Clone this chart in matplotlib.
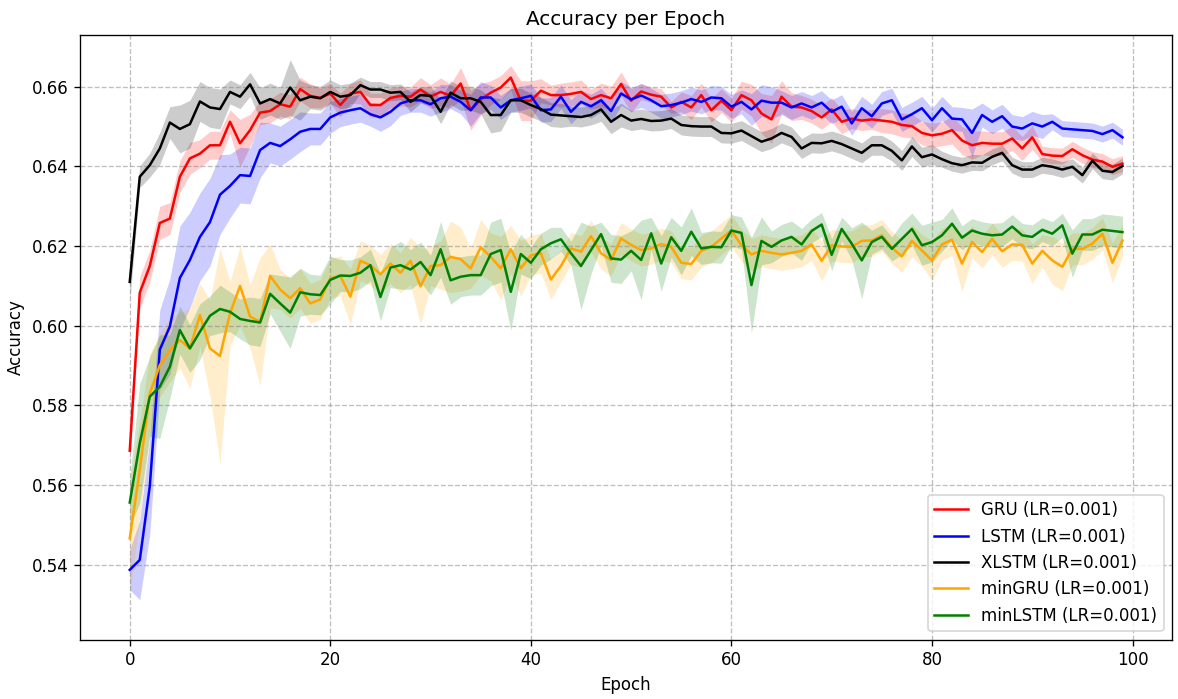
import numpy as np
import matplotlib.pyplot as plt

# epochs 0..99
epochs = np.arange(100)

# mean accuracy per epoch
gru_mean = [
    0.5686, 0.6083, 0.6150, 0.6258, 0.6269, 0.6374, 0.6420, 0.6432, 0.6453, 0.6453,
    0.6512, 0.6458, 0.6491, 0.6535, 0.6539, 0.6556, 0.6550, 0.6594, 0.6577, 0.6572,
    0.6583, 0.6554, 0.6583, 0.6587, 0.6554, 0.6554, 0.6572, 0.6577, 0.6575, 0.6593,
    0.6575, 0.6587, 0.6577, 0.6608, 0.6541, 0.6568, 0.6585, 0.6598, 0.6623, 0.6565,
    0.6565, 0.6590, 0.6579, 0.6579, 0.6582, 0.6587, 0.6569, 0.6579, 0.6571, 0.6607,
    0.6565, 0.6588, 0.6580, 0.6575, 0.6548, 0.6562, 0.6548, 0.6579, 0.6541, 0.6565,
    0.6541, 0.6579, 0.6566, 0.6533, 0.6518, 0.6575, 0.6550, 0.6548, 0.6539, 0.6523,
    0.6543, 0.6512, 0.6520, 0.6515, 0.6518, 0.6515, 0.6512, 0.6504, 0.6501, 0.6484,
    0.6478, 0.6482, 0.6491, 0.6465, 0.6453, 0.6459, 0.6457, 0.6457, 0.6470, 0.6445,
    0.6473, 0.6431, 0.6427, 0.6426, 0.6443, 0.6428, 0.6417, 0.6412, 0.6399, 0.6407,
]
gru_std = [
    0.003, 0.004, 0.004, 0.0042, 0.004, 0.004, 0.004, 0.0035, 0.0035, 0.0035,
    0.003, 0.006, 0.004, 0.003, 0.003, 0.003, 0.003, 0.003, 0.003, 0.0025,
    0.0025, 0.003, 0.0025, 0.003, 0.003, 0.003, 0.0025, 0.0025, 0.0025, 0.003,
    0.003, 0.0035, 0.003, 0.004, 0.005, 0.004, 0.003, 0.003, 0.003, 0.005,
    0.005, 0.003, 0.0025, 0.003, 0.003, 0.003, 0.0025, 0.003, 0.003, 0.003,
    0.003, 0.002, 0.002, 0.002, 0.0015, 0.0025, 0.003, 0.003, 0.003, 0.003,
    0.003, 0.0035, 0.004, 0.005, 0.006, 0.004, 0.0035, 0.003, 0.003, 0.003,
    0.003, 0.003, 0.0025, 0.0025, 0.0025, 0.003, 0.003, 0.003, 0.003, 0.003,
    0.003, 0.003, 0.0035, 0.0035, 0.0035, 0.003, 0.003, 0.003, 0.003, 0.003,
    0.003, 0.002, 0.002, 0.002, 0.002, 0.002, 0.002, 0.002, 0.002, 0.002,
]

lstm_mean = [
    0.5387, 0.5412, 0.5597, 0.5940, 0.5998, 0.6120, 0.6165, 0.6223, 0.6260, 0.6329,
    0.6351, 0.6378, 0.6376, 0.6441, 0.6459, 0.6451, 0.6468, 0.6487, 0.6494, 0.6494,
    0.6523, 0.6535, 0.6541, 0.6546, 0.6531, 0.6523, 0.6537, 0.6558, 0.6566, 0.6566,
    0.6556, 0.6571, 0.6575, 0.6562, 0.6541, 0.6573, 0.6573, 0.6548, 0.6566, 0.6571,
    0.6577, 0.6541, 0.6543, 0.6575, 0.6537, 0.6562, 0.6551, 0.6566, 0.6539, 0.6583,
    0.6568, 0.6578, 0.6566, 0.6551, 0.6554, 0.6560, 0.6569, 0.6562, 0.6573, 0.6571,
    0.6550, 0.6562, 0.6543, 0.6565, 0.6560, 0.6560, 0.6548, 0.6558, 0.6548, 0.6560,
    0.6537, 0.6550, 0.6508, 0.6546, 0.6526, 0.6558, 0.6566, 0.6518, 0.6531, 0.6546,
    0.6516, 0.6546, 0.6520, 0.6518, 0.6484, 0.6529, 0.6512, 0.6526, 0.6500, 0.6495,
    0.6508, 0.6500, 0.6512, 0.6495, 0.6493, 0.6491, 0.6489, 0.6481, 0.6491, 0.6473,
]
lstm_std = [
    0.005, 0.010, 0.012, 0.010, 0.012, 0.013, 0.012, 0.011, 0.011, 0.010,
    0.008, 0.007, 0.007, 0.007, 0.005, 0.005, 0.005, 0.005, 0.004, 0.004,
    0.004, 0.0035, 0.0035, 0.0035, 0.003, 0.0035, 0.0035, 0.003, 0.003, 0.003,
    0.003, 0.0035, 0.003, 0.003, 0.004, 0.004, 0.003, 0.003, 0.003, 0.003,
    0.003, 0.003, 0.003, 0.003, 0.003, 0.003, 0.003, 0.003, 0.003, 0.003,
    0.003, 0.003, 0.003, 0.003, 0.003, 0.003, 0.003, 0.003, 0.003, 0.003,
    0.003, 0.003, 0.004, 0.004, 0.004, 0.003, 0.003, 0.003, 0.003, 0.003,
    0.003, 0.003, 0.003, 0.003, 0.003, 0.003, 0.003, 0.003, 0.003, 0.003,
    0.003, 0.003, 0.003, 0.003, 0.006, 0.003, 0.003, 0.003, 0.003, 0.003,
    0.003, 0.003, 0.002, 0.002, 0.002, 0.002, 0.002, 0.002, 0.002, 0.002,
]

xlstm_mean = [
    0.6110, 0.6374, 0.6403, 0.6445, 0.6510, 0.6494, 0.6506, 0.6563, 0.6548, 0.6544,
    0.6587, 0.6575, 0.6606, 0.6558, 0.6569, 0.6558, 0.6598, 0.6566, 0.6575, 0.6571,
    0.6587, 0.6575, 0.6579, 0.6604, 0.6593, 0.6593, 0.6585, 0.6587, 0.6562, 0.6579,
    0.6577, 0.6537, 0.6585, 0.6571, 0.6571, 0.6562, 0.6529, 0.6529, 0.6566, 0.6566,
    0.6554, 0.6544, 0.6530, 0.6528, 0.6526, 0.6524, 0.6529, 0.6543, 0.6512, 0.6529,
    0.6515, 0.6519, 0.6514, 0.6515, 0.6520, 0.6504, 0.6501, 0.6500, 0.6500, 0.6484,
    0.6483, 0.6490, 0.6476, 0.6462, 0.6470, 0.6484, 0.6474, 0.6445, 0.6459, 0.6458,
    0.6464, 0.6456, 0.6445, 0.6434, 0.6453, 0.6453, 0.6439, 0.6415, 0.6450, 0.6423,
    0.6430, 0.6418, 0.6408, 0.6403, 0.6410, 0.6409, 0.6424, 0.6434, 0.6403, 0.6392,
    0.6392, 0.6403, 0.6399, 0.6392, 0.6399, 0.6378, 0.6414, 0.6389, 0.6386, 0.6401,
]
xlstm_std = [
    0.005, 0.0027, 0.003, 0.004, 0.004, 0.006, 0.006, 0.005, 0.005, 0.005,
    0.003, 0.003, 0.003, 0.004, 0.004, 0.004, 0.007, 0.005, 0.003, 0.003,
    0.003, 0.003, 0.003, 0.002, 0.002, 0.002, 0.002, 0.002, 0.0025, 0.002,
    0.0025, 0.003, 0.003, 0.003, 0.003, 0.003, 0.0045, 0.004, 0.003, 0.003,
    0.003, 0.003, 0.003, 0.003, 0.0025, 0.0025, 0.0025, 0.003, 0.003, 0.003,
    0.0025, 0.0025, 0.0025, 0.0025, 0.0025, 0.0025, 0.0025, 0.0025, 0.0025, 0.0025,
    0.0025, 0.0025, 0.0025, 0.0025, 0.0025, 0.0025, 0.0025, 0.0025, 0.0025, 0.0025,
    0.0025, 0.0025, 0.0025, 0.0025, 0.0025, 0.0025, 0.0025, 0.0025, 0.0025, 0.0025,
    0.0025, 0.002, 0.002, 0.002, 0.002, 0.002, 0.002, 0.002, 0.002, 0.002,
    0.002, 0.002, 0.002, 0.002, 0.002, 0.002, 0.002, 0.002, 0.002, 0.002,
]

mingru_mean = [
    0.5466, 0.5638, 0.5830, 0.5901, 0.5939, 0.5964, 0.5943, 0.6027, 0.5943, 0.5924,
    0.6031, 0.6100, 0.6023, 0.6010, 0.6125, 0.6091, 0.6069, 0.6094, 0.6056, 0.6066,
    0.6119, 0.6125, 0.6073, 0.6163, 0.6152, 0.6129, 0.6156, 0.6133, 0.6163, 0.6099,
    0.6150, 0.6152, 0.6173, 0.6167, 0.6144, 0.6197, 0.6173, 0.6144, 0.6192, 0.6144,
    0.6177, 0.6182, 0.6116, 0.6150, 0.6194, 0.6186, 0.6225, 0.6182, 0.6165, 0.6219,
    0.6203, 0.6190, 0.6194, 0.6205, 0.6198, 0.6158, 0.6155, 0.6188, 0.6198, 0.6219,
    0.6239, 0.6202, 0.6179, 0.6188, 0.6183, 0.6179, 0.6183, 0.6188, 0.6204, 0.6163,
    0.6202, 0.6199, 0.6198, 0.6213, 0.6214, 0.6227, 0.6196, 0.6174, 0.6213, 0.6189,
    0.6164, 0.6204, 0.6216, 0.6156, 0.6210, 0.6185, 0.6218, 0.6187, 0.6204, 0.6203,
    0.6156, 0.6188, 0.6164, 0.6148, 0.6193, 0.6193, 0.6206, 0.6231, 0.6158, 0.6214,
]
mingru_std = [
    0.014, 0.012, 0.010, 0.008, 0.008, 0.007, 0.010, 0.008, 0.012, 0.027,
    0.008, 0.010, 0.008, 0.016, 0.008, 0.005, 0.005, 0.005, 0.005, 0.005,
    0.005, 0.005, 0.007, 0.005, 0.005, 0.005, 0.005, 0.005, 0.006, 0.0095,
    0.005, 0.006, 0.009, 0.008, 0.005, 0.007, 0.006, 0.008, 0.006, 0.007,
    0.005, 0.005, 0.005, 0.004, 0.004, 0.004, 0.004, 0.004, 0.004, 0.004,
    0.004, 0.004, 0.004, 0.004, 0.004, 0.004, 0.004, 0.004, 0.004, 0.004,
    0.004, 0.004, 0.004, 0.004, 0.004, 0.004, 0.004, 0.004, 0.004, 0.005,
    0.004, 0.004, 0.004, 0.004, 0.004, 0.004, 0.004, 0.004, 0.004, 0.004,
    0.005, 0.004, 0.004, 0.007, 0.004, 0.004, 0.004, 0.004, 0.004, 0.004,
    0.005, 0.004, 0.006, 0.006, 0.004, 0.004, 0.004, 0.004, 0.005, 0.004,
]

minlstm_mean = [
    0.5556, 0.5705, 0.5822, 0.5847, 0.5897, 0.5989, 0.5943, 0.5985, 0.6025, 0.6042,
    0.6035, 0.6017, 0.6012, 0.6008, 0.6080, 0.6056, 0.6033, 0.6084, 0.6079, 0.6077,
    0.6115, 0.6126, 0.6125, 0.6133, 0.6152, 0.6072, 0.6146, 0.6152, 0.6141, 0.6160,
    0.6127, 0.6192, 0.6114, 0.6123, 0.6127, 0.6127, 0.6180, 0.6190, 0.6085, 0.6180,
    0.6158, 0.6192, 0.6207, 0.6217, 0.6182, 0.6150, 0.6190, 0.6230, 0.6169, 0.6166,
    0.6188, 0.6165, 0.6232, 0.6156, 0.6222, 0.6188, 0.6236, 0.6194, 0.6198, 0.6197,
    0.6239, 0.6233, 0.6102, 0.6213, 0.6198, 0.6214, 0.6223, 0.6204, 0.6238, 0.6254,
    0.6178, 0.6243, 0.6206, 0.6164, 0.6210, 0.6223, 0.6193, 0.6218, 0.6243, 0.6202,
    0.6210, 0.6227, 0.6256, 0.6221, 0.6239, 0.6231, 0.6227, 0.6229, 0.6249, 0.6227,
    0.6223, 0.6241, 0.6231, 0.6252, 0.6181, 0.6229, 0.6229, 0.6241, 0.6238, 0.6235,
]
minlstm_std = [
    0.006, 0.015, 0.010, 0.013, 0.008, 0.006, 0.006, 0.007, 0.005, 0.006,
    0.005, 0.005, 0.006, 0.006, 0.005, 0.007, 0.009, 0.006, 0.005, 0.005,
    0.006, 0.004, 0.004, 0.004, 0.004, 0.006, 0.005, 0.006, 0.005, 0.005,
    0.005, 0.007, 0.006, 0.005, 0.005, 0.005, 0.008, 0.008, 0.0097, 0.005,
    0.004, 0.004, 0.004, 0.003, 0.003, 0.011, 0.006, 0.003, 0.006, 0.006,
    0.005, 0.010, 0.004, 0.007, 0.005, 0.006, 0.006, 0.004, 0.004, 0.004,
    0.004, 0.004, 0.012, 0.006, 0.004, 0.004, 0.004, 0.004, 0.003, 0.003,
    0.004, 0.003, 0.004, 0.0096, 0.003, 0.003, 0.003, 0.004, 0.004, 0.005,
    0.005, 0.004, 0.004, 0.003, 0.003, 0.003, 0.003, 0.003, 0.003, 0.003,
    0.003, 0.003, 0.003, 0.003, 0.006, 0.004, 0.004, 0.004, 0.004, 0.004,
]

labels = ['GRU (LR=0.001)', 'LSTM (LR=0.001)', 'XLSTM (LR=0.001)',
          'minGRU (LR=0.001)', 'minLSTM (LR=0.001)']
colors = ['red', 'blue', 'black', 'orange', 'green']
means = [gru_mean, lstm_mean, xlstm_mean, mingru_mean, minlstm_mean]
stds = [gru_std, lstm_std, xlstm_std, mingru_std, minlstm_std]


fig, ax = plt.subplots(figsize=(1178 / 120, 699 / 120), dpi=120)
fig.subplots_adjust(left=0.068, right=0.995, top=0.95, bottom=0.085)

for m, s, c, lab in zip(means, stds, colors, labels):
    m = np.array(m)
    s = np.array(s)
    ax.plot(epochs, m, color=c, lw=1.5, label=lab)
    ax.fill_between(epochs, m - s, m + s, color=c, alpha=0.2, lw=0)

ax.set_xlim(-4.95, 103.95)
ax.set_ylim(0.5212, 0.673)
ax.set_title('Accuracy per Epoch')
ax.set_xlabel('Epoch')
ax.set_ylabel('Accuracy')
ax.grid(True, linestyle='--', color='gray', alpha=0.5)
ax.legend(loc='lower right')

fig.savefig('out.png', dpi=120)
